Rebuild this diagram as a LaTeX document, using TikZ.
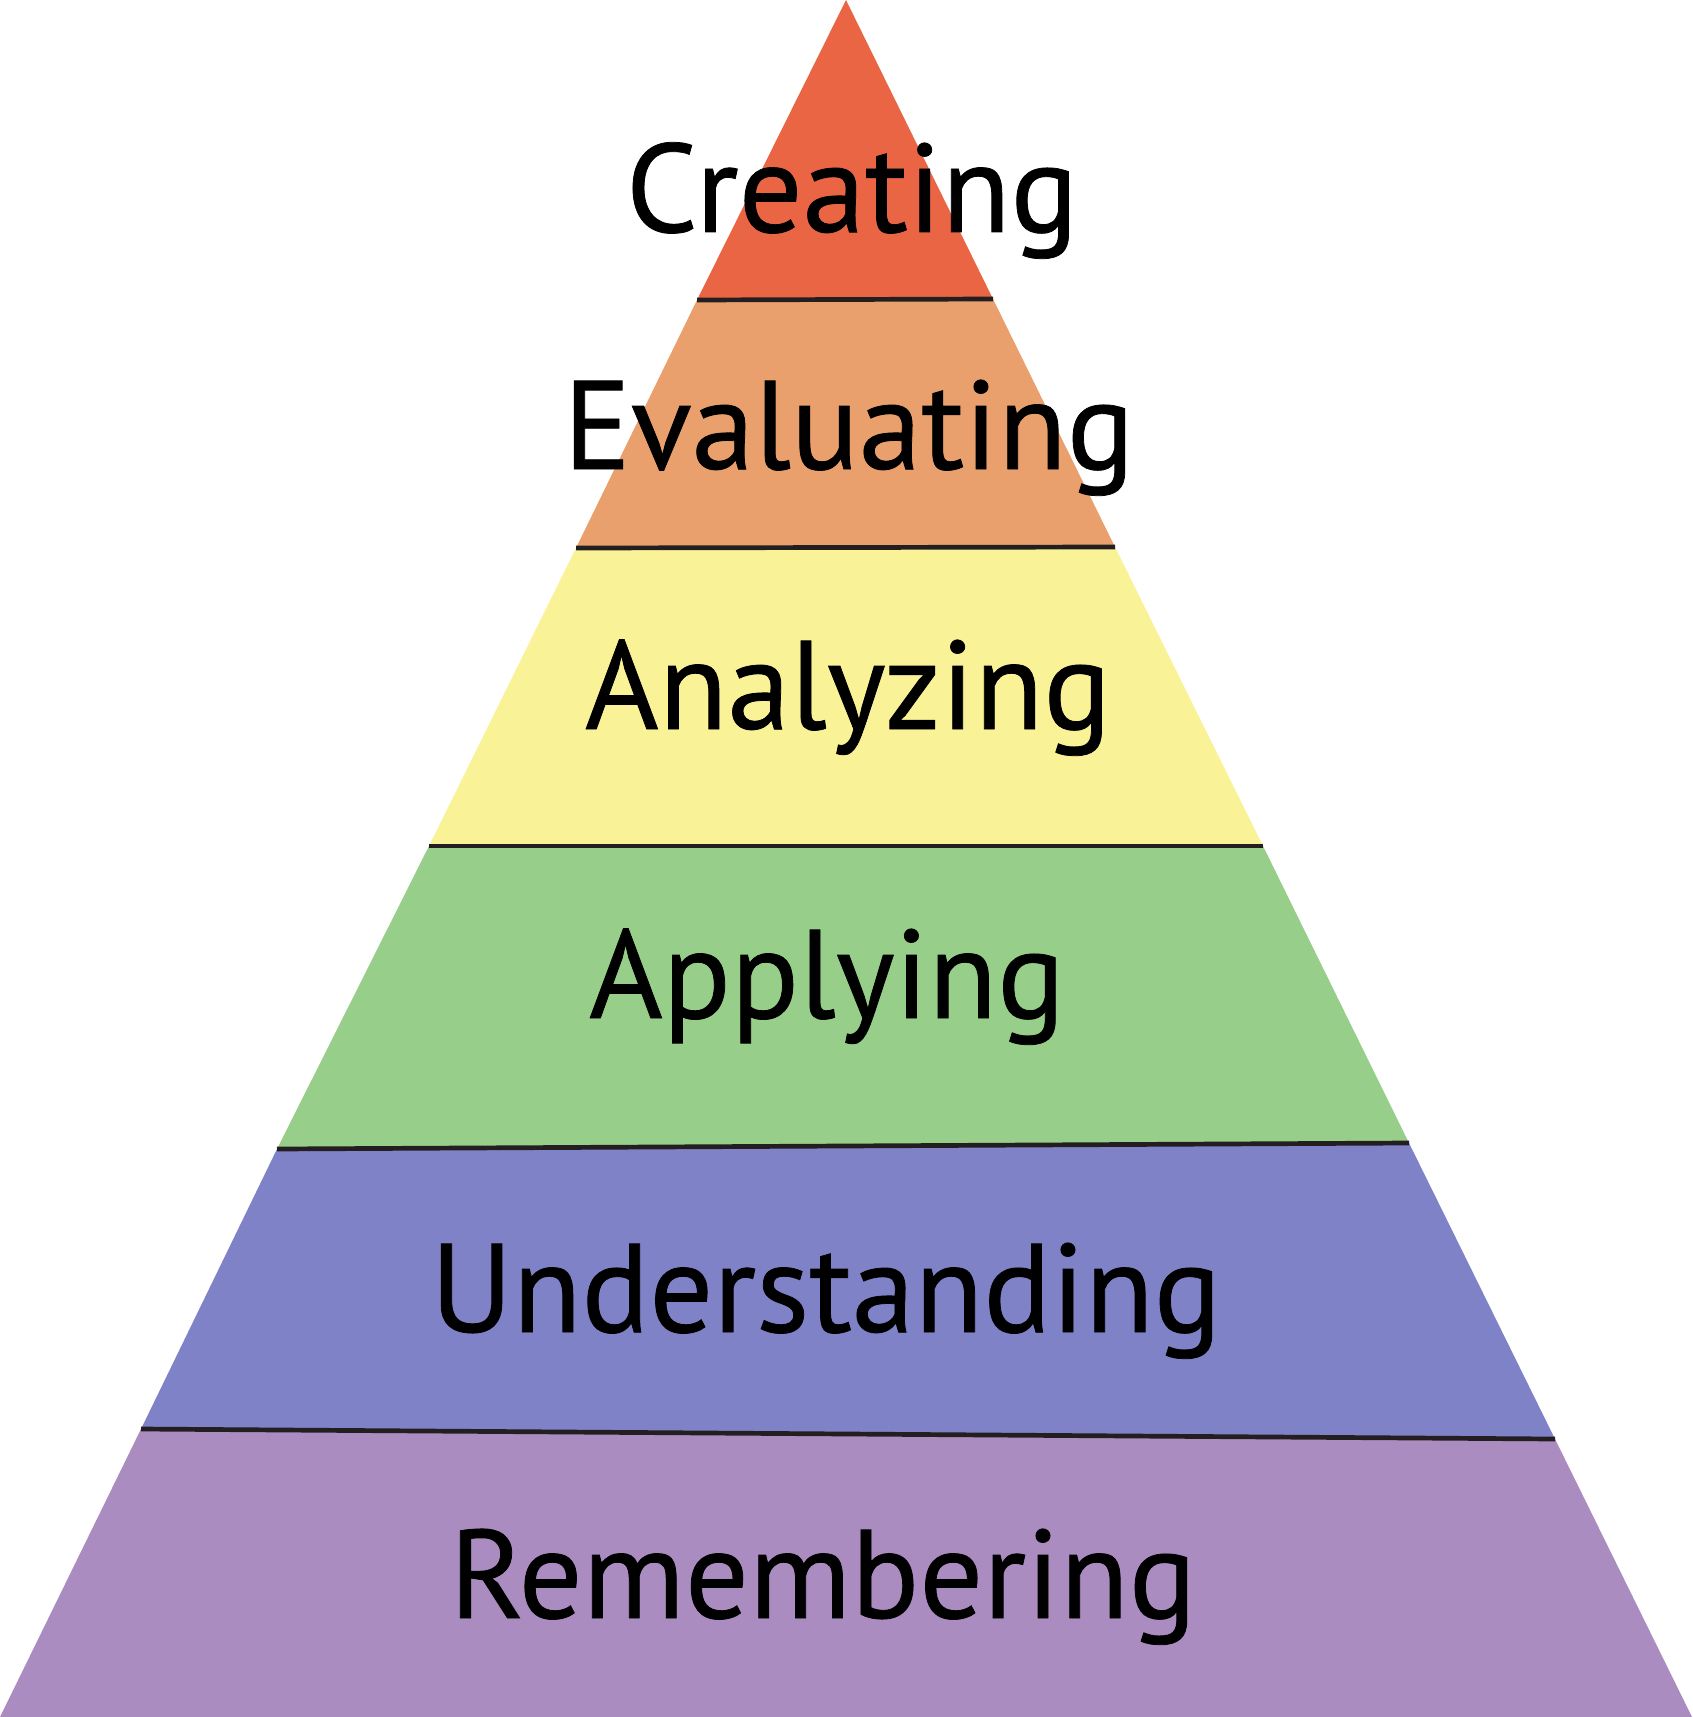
\documentclass[tikz,border=0pt]{standalone}
\usepackage{fontspec}
\setmainfont{PT Sans}
\newfontfamily\lblfont{PT Sans}[FakeBold=0.6]
\usepackage{xcolor}
\usepackage{tikz}

\definecolor{creatc}{HTML}{E96543}
\definecolor{evalc}{HTML}{E9A06C}
\definecolor{analc}{HTML}{FAF296}
\definecolor{applc}{HTML}{97CE8A}
\definecolor{undc}{HTML}{7F82C6}
\definecolor{remc}{HTML}{AA8CC0}
\definecolor{linec}{HTML}{231F20}

\begin{document}
\begin{tikzpicture}[x=0.5pt,y=-0.5pt,
      lbl/.style={anchor=base, inner sep=0pt, font=\lblfont\fontsize{63}{72}\selectfont},
      sep/.style={draw=linec, line width=2.35pt}]
    \useasboundingbox (0,0) rectangle (1692,1717);
    % band corners
    \coordinate (top) at (846,0);
    \coordinate (a1) at (697,300);  \coordinate (b1) at (993,299);
    \coordinate (a2) at (576,548);  \coordinate (b2) at (1115,547);
    \coordinate (a3) at (429,846);  \coordinate (b3) at (1263,846);
    \coordinate (a4) at (277,1149); \coordinate (b4) at (1409,1143);
    \coordinate (a5) at (141,1429); \coordinate (b5) at (1555,1439);
    \coordinate (bl) at (0,1717);   \coordinate (br) at (1692,1717);
    \fill[creatc] (top) -- (b1) -- (a1) -- cycle;
    \fill[evalc]  (a1) -- (b1) -- (b2) -- (a2) -- cycle;
    \fill[analc]  (a2) -- (b2) -- (b3) -- (a3) -- cycle;
    \fill[applc]  (a3) -- (b3) -- (b4) -- (a4) -- cycle;
    \fill[undc]   (a4) -- (b4) -- (b5) -- (a5) -- cycle;
    \fill[remc]   (a5) -- (b5) -- (br) -- (bl) -- cycle;
    \draw[sep] (a1)--(b1);
    \draw[sep] (a2)--(b2);
    \draw[sep] (a3)--(b3);
    \draw[sep] (a4)--(b4);
    \draw[sep] (a5)--(b5);
    \node[lbl] (creating) at (852,232)  {Creating};
    \node[lbl] (evaluating) at (849,469) {Evaluating};
    \node[lbl] (analyzing) at (848,729) {Analyzing};
    \node[lbl] (applying) at (827,1018) {Applying};
    \node[lbl] (understanding) at (826,1332) {Understanding};
    \node[lbl] (remembering) at (823,1618) {Remembering};
  \end{tikzpicture}
\end{document}
